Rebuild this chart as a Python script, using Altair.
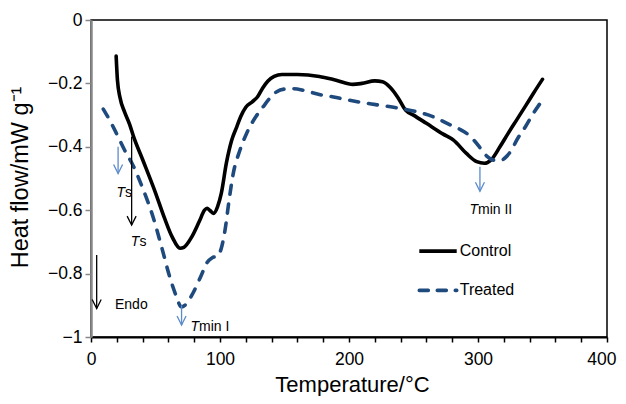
import altair as alt
import pandas as pd

# ---------------- data ----------------
control_t = [19.5, 20.5, 22.5, 26, 30, 33, 40, 50, 57, 63, 69, 72, 78, 84, 88, 90, 92, 95, 98,
             101, 105, 109, 113, 116, 120, 125, 129, 133, 137, 142, 148, 160, 177, 190, 203,
             210, 220, 226, 232, 238, 244, 250, 260, 273, 281, 291, 299, 305, 310, 317,
             323, 330, 337, 343, 350]
control_y = [-0.114, -0.19, -0.245, -0.29, -0.33, -0.368, -0.44, -0.545, -0.625, -0.685, -0.72,
             -0.717, -0.685, -0.635, -0.6, -0.594, -0.6, -0.61, -0.59,
             -0.547, -0.45, -0.38, -0.337, -0.305, -0.275, -0.258, -0.243, -0.215, -0.193,
             -0.178, -0.172, -0.172, -0.178, -0.19, -0.203,
             -0.2, -0.192, -0.195, -0.213, -0.245, -0.285, -0.3, -0.326, -0.36, -0.379, -0.421,
             -0.447, -0.452, -0.442, -0.40,
             -0.36, -0.315, -0.27, -0.231, -0.187]

treated_t = [9.5, 15, 20, 26, 33, 40, 48, 55, 61, 66, 70, 74, 79, 85, 90, 94, 98, 101, 104,
             107, 110, 115.5, 120.7, 127, 133.6, 139, 144, 150, 157, 165, 177, 188, 200, 214,
             226, 240, 252, 265, 278, 286, 292, 297, 302, 307, 312, 317, 322, 326, 330, 337,
             343, 349]
treated_y = [-0.281, -0.32, -0.36, -0.41, -0.462, -0.53, -0.62, -0.72, -0.81, -0.87, -0.905,
             -0.895, -0.862, -0.81, -0.765, -0.75, -0.745, -0.72, -0.66,
             -0.57, -0.49, -0.41, -0.357, -0.31, -0.273, -0.245, -0.226, -0.218, -0.217, -0.222,
             -0.235, -0.243, -0.253, -0.263,
             -0.27, -0.279, -0.289, -0.305, -0.33, -0.345, -0.36, -0.38, -0.405, -0.43, -0.442,
             -0.444, -0.431, -0.41, -0.379, -0.335,
             -0.294, -0.258]

# axis tick values
x_ticks = list(range(0, 401, 20))
y_ticks = [-1, -0.8, -0.6, -0.4, -0.2, 0]

# arrows: x position, start y, end y, colour
arrow_t = [21, 31.5, 4.4, 70.2, 301.5]
arrow_y1 = [-0.40, -0.368, -0.741, -0.90, -0.463]
arrow_y2 = [-0.484, -0.647, -0.91, -0.962, -0.54]
arrow_col = ["blue", "black", "black", "blue", "blue"]

# labels: italic "T" part (right-aligned) and upright rest (left-aligned) at the same anchor
lab_t = [26.4, 37.5, 83.7, 300]
lab_y = [-0.547, -0.70, -0.967, -0.60]
lab_rest = ["s", "s", "min I", "min II"]

endo_t = [18.6]
endo_y = [-0.90]
endo_text = ["Endo"]

legend_names = ["Control", "Treated"]
legend_t1 = [254.5, 254.5]
legend_t2 = [283.5, 283.5]
legend_y = [-0.729, -0.853]

# ---------------- frames ----------------
df_c = pd.DataFrame({"T": control_t, "y": control_y})
df_t = pd.DataFrame({"T": treated_t, "y": treated_y})
df_ar = pd.DataFrame({"T": arrow_t, "y": arrow_y1, "y2": arrow_y2, "c": arrow_col})
df_lab = pd.DataFrame({"T": lab_t, "y": lab_y, "rest": lab_rest})
df_endo = pd.DataFrame({"T": endo_t, "y": endo_y, "text": endo_text})
df_leg = pd.DataFrame({"name": legend_names, "T": legend_t1, "T2": legend_t2, "y": legend_y})

FONT = "Liberation Sans"
BLUE_LINE = "#1F4A7E"
BLUE_ARROW = "#5B8BCB"
PLOT_W, PLOT_H = 516, 317

xs = alt.Scale(domain=[0, 400], nice=False, zero=False)
ys = alt.Scale(domain=[-1, 0], nice=False, zero=False)

xaxis = alt.Axis(
    title="Temperature/°C",
    values=x_ticks,
    labelExpr="datum.value % 100 === 0 ? datum.label : ''",
    format="d",
    grid=False,
    ticks=True,
    labelFlush=False,
    labelOverlap=False,
    labelAlign={"condition": {"test": "datum.value >= 400", "value": "right"}, "value": "center"},
    labelOffset={"condition": {"test": "datum.value >= 400", "value": 9}, "value": 0},
    domainColor="black", domainWidth=2,
    tickColor="black", tickSize=5, tickWidth=1.5, tickOpacity=1,
    labelFont=FONT, labelFontSize=17.5, labelColor="black", labelPadding=8,
    titleFont=FONT, titleFontSize=22, titleFontWeight="normal", titleColor="black",
    titleBaseline="alphabetic", titleY=54, titleX=261,
)
yaxis = alt.Axis(
    title="Heat flow/mW g⁻¹",
    values=y_ticks,
    format="~g",
    grid=False,
    ticks=True,
    labelFlush=False,
    labelOverlap=False,
    domainColor="#888888", domainWidth=2.5,
    tickColor="#888888", tickSize=6, tickWidth=1.5, tickOpacity=1,
    labelFont=FONT, labelFontSize=17.5, labelColor="black", labelPadding=3,
    titleFont=FONT, titleFontSize=23.5, titleFontWeight="normal", titleColor="black",
    titleBaseline="alphabetic", titleX=-64, titleY=157, titleAngle=270,
)

X = alt.X("T:Q", scale=xs, axis=xaxis)
Y = alt.Y("y:Q", scale=ys, axis=yaxis)

control = alt.Chart(df_c).mark_line(
    color="black", strokeWidth=3.6, interpolate="monotone", strokeCap="round"
).encode(x=X, y=Y)

treated = alt.Chart(df_t).mark_line(
    color=BLUE_LINE, strokeWidth=3.6, interpolate="monotone",
    strokeDash=[9, 10], strokeCap="round"
).encode(x=X, y=Y)

arrow_color = alt.Color("c:N", scale=alt.Scale(domain=["blue", "black"], range=[BLUE_ARROW, "black"]), legend=None)

arrow_lines = alt.Chart(df_ar).mark_rule(strokeWidth=1.3).encode(
    x=X, y=Y, y2="y2:Q", color=arrow_color
)
arrow_heads = alt.Chart(df_ar).mark_point(
    shape="M-0.5,-1L0,0L0.5,-1", size=324, filled=False, strokeWidth=1.3, opacity=1
).encode(x=X, y=alt.Y("y2:Q", scale=ys, axis=yaxis), color=arrow_color)

lab_T = alt.Chart(df_lab).mark_text(
    text="T", font=FONT, fontSize=14, fontStyle="italic", align="right", baseline="middle", color="black"
).encode(x=X, y=Y)
lab_rest_m = alt.Chart(df_lab).mark_text(
    font=FONT, fontSize=14, align="left", baseline="middle", color="black"
).encode(x=X, y=Y, text="rest:N")

endo = alt.Chart(df_endo).mark_text(
    font=FONT, fontSize=14, align="left", baseline="middle", color="black"
).encode(x=X, y=Y, text="text:N")

leg_ctrl = alt.Chart(df_leg[df_leg.name == "Control"]).mark_rule(
    color="black", strokeWidth=3.6
).encode(x=X, x2="T2:Q", y=Y)
leg_trt = alt.Chart(df_leg[df_leg.name == "Treated"]).mark_rule(
    color=BLUE_LINE, strokeWidth=3.6, strokeDash=[9, 9], strokeCap="round"
).encode(x=X, x2="T2:Q", y=Y)
leg_text = alt.Chart(df_leg).mark_text(
    font=FONT, fontSize=16, align="left", baseline="middle", color="black", dx=3
).encode(x=alt.X("T2:Q", scale=xs, axis=xaxis), y=Y, text="name:N")

chart = alt.layer(
    control, treated, arrow_lines, arrow_heads, lab_T, lab_rest_m, endo,
    leg_ctrl, leg_trt, leg_text
).properties(
    width=PLOT_W, height=PLOT_H,
    autosize=alt.AutoSizeParams(type="none"),
    padding={"left": 83, "top": 12, "right": 11, "bottom": 59},
    background="white",
).configure_view(
    stroke="black", strokeWidth=1.5
)

chart.save("out.html", embed_options={"renderer": "svg", "actions": False})
